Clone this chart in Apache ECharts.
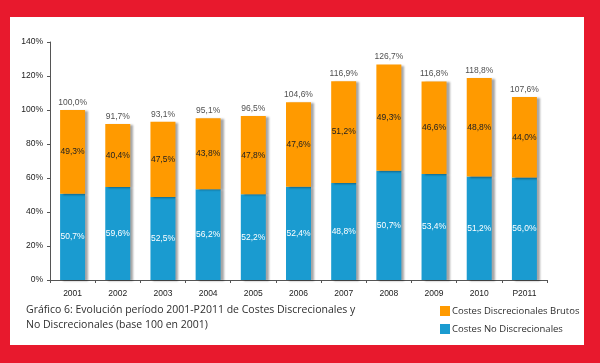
<!DOCTYPE html>
<html><head><meta charset="utf-8">
<script src="https://cdn.jsdelivr.net/npm/echarts@6/dist/echarts.min.js"></script>
<style>
html,body{margin:0;padding:0;}
body{background:#e8192d;width:600px;height:363px;overflow:hidden;position:relative;}
#bg{position:absolute;left:10px;top:17px;width:574px;height:328px;background:#fff;}
#chart{position:absolute;left:0;top:0;width:600px;height:363px;}
</style></head>
<body><div id="bg"></div><div id="chart"></div>
<script>
var categories = ['2001','2002','2003','2004','2005','2006','2007','2008','2009','2010','P2011'];
var totals = [100.0, 91.7, 93.1, 95.1, 96.5, 104.6, 116.9, 126.7, 116.8, 118.8, 107.6];
var shareNoDisc = [50.7, 59.6, 52.5, 56.2, 52.2, 52.4, 48.8, 50.7, 53.4, 51.2, 56.0];
var shareDisc = [49.3, 40.4, 47.5, 43.8, 47.8, 47.6, 51.2, 49.3, 46.6, 48.8, 44.0];
var yTicks = [0, 20, 40, 60, 80, 100, 120, 140];
var seriesNames = ['Costes Discrecionales Brutos', 'Costes No Discrecionales'];

function fmt(v){ return v.toFixed(1).replace('.', ',') + '%'; }
var blueVals = totals.map(function(t,i){ return +(t*shareNoDisc[i]/100).toFixed(2); });
var orangeVals = totals.map(function(t,i){ return +(t - blueVals[i]).toFixed(2); });

var chart = echarts.init(document.getElementById('chart'), null, {renderer:'canvas'});
var font = 'Liberation Sans';
var shadow = {shadowColor:'rgba(0,0,0,0.35)', shadowBlur:2, shadowOffsetX:3, shadowOffsetY:1};
chart.setOption({
  animation:false,
  backgroundColor:'transparent',
  textStyle:{fontFamily:font},
  title:{
    text:'Gráfico 6: Evolución período 2001-P2011 de Costes Discrecionales y\nNo Discrecionales (base 100 en 2001)',
    left:21, top:298,
    textStyle:{fontFamily:'Open Sans', fontSize:10.5, fontWeight:'normal', color:'#2e2e2e', lineHeight:15}
  },
  legend:{
    data:seriesNames, orient:'vertical', left:435, top:301,
    itemWidth:10, itemHeight:10, itemGap:8, icon:'rect',
    textStyle:{fontFamily:'Open Sans', fontSize:9.5, color:'#2e2e2e', padding:[0,0,0,-3]}
  },
  grid:{left:50, right:53, top:42, bottom:83, containLabel:false},
  xAxis:{
    type:'category', data:categories,
    axisLine:{lineStyle:{color:'#555', width:1}},
    axisTick:{show:true, length:3, lineStyle:{color:'#555'}},
    axisLabel:{fontSize:8.5, color:'#222', margin:9, fontFamily:font}
  },
  yAxis:{
    type:'value', min:yTicks[0], max:yTicks[yTicks.length-1], interval:20,
    axisLine:{show:true, lineStyle:{color:'#555', width:1}},
    axisTick:{show:true, length:3, lineStyle:{color:'#555'}},
    splitLine:{show:false},
    axisLabel:{fontSize:8.5, color:'#222', margin:7, fontFamily:font, formatter:'{value}%'}
  },
  series:[
    {
      name:seriesNames[1], type:'bar', stack:'s', barWidth:25, data:blueVals,
      itemStyle:Object.assign({color:'#1a9bd0'}, shadow),
      label:{show:true, position:'inside', color:'#fff', fontSize:8.5, fontFamily:font,
        formatter:function(p){ return fmt(shareNoDisc[p.dataIndex]); }}
    },
    {
      name:seriesNames[0], type:'bar', stack:'s', barWidth:25, data:orangeVals,
      itemStyle:Object.assign({color:'#ff9a00'}, shadow),
      label:{show:true, position:'inside', color:'#222', fontSize:8.5, fontFamily:font,
        formatter:function(p){ return fmt(shareDisc[p.dataIndex]); }}
    },
    {
      name:'total', type:'scatter', data:totals, symbolSize:0, silent:true,
      label:{show:true, position:'top', distance:3, color:'#222', fontSize:8.5, fontFamily:font,
        formatter:function(p){ return fmt(totals[p.dataIndex]); }}
    }
  ]
});
</script></body></html>
